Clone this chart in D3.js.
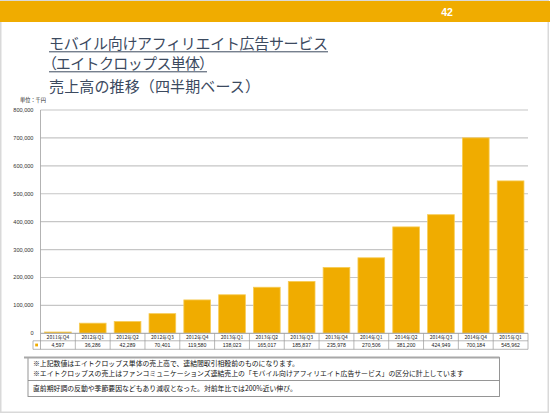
<!DOCTYPE html>
<html><head><meta charset="utf-8">
<script src="https://cdn.jsdelivr.net/npm/d3@7"></script>
<style>
html,body{margin:0;padding:0;background:#fff;}
svg{display:block;}
.palt{font-feature-settings:"palt";}
</style></head>
<body>
<svg id="c" width="550" height="413"></svg>
<script>
const categories = ["2011年Q4","2012年Q1","2012年Q2","2012年Q3","2012年Q4","2013年Q1","2013年Q2","2013年Q3","2013年Q4","2014年Q1","2014年Q2","2014年Q3","2014年Q4","2015年Q1"];
const sales = [4597,36286,42289,70401,119580,138023,165017,185837,235978,270506,381200,424949,700184,545962];
const yTicks = [0,100000,200000,300000,400000,500000,600000,700000,800000];
const titleLines = ["モバイル向けアフィリエイト広告サービス","（エイトクロップス単体）","売上高の推移（四半期ベース）"];
const unitLabel = "単位：千円";
const pageNumber = "42";
const notes = ["※上記数値はエイトクロップス単体の売上高で、連結間取引相殺前のものになります。",
  "※エイトクロップスの売上はファンコミュニケーションズ連結売上の「モバイル向けアフィリエイト広告サービス」の区分に計上しています"];
const comment = "直前期好調の反動や季節要因などもあり減収となった。対前年比では200%近い伸び。";

const JP = "'Noto Sans CJK JP','Noto Sans',sans-serif";
const NUM = "'Liberation Sans',Arial,sans-serif";
const ORANGE = "#F0AC00";
const svg = d3.select("#c");

// slide border
svg.append("rect").attr("x",0.75).attr("y",0.75).attr("width",547.5).attr("height",411.5)
  .attr("fill","#fff").attr("stroke","#d9d9d9").attr("stroke-width",1.5);
// header bar
svg.append("rect").attr("x",0).attr("y",1).attr("width",550).attr("height",21).attr("fill",ORANGE);
svg.append("text").attr("x",447).attr("y",16).attr("text-anchor","middle")
  .attr("font-family",NUM).attr("font-weight","bold").attr("font-size",10.5).attr("fill","#fff").text(pageNumber);

// title
const tBase = [49, 69, 92];
const tWidth = [279, 158, 211];
titleLines.forEach((t,i)=>{
  const tx = svg.append("text").attr("x",49).attr("y",tBase[i]).attr("font-family",JP)
    .attr("font-size",15).attr("fill","#3c4a5f");
  // split so that parentheses get proportional widths in line 2
  const parts = t.split(/([（）])/).filter(s=>s.length);
  parts.forEach(p=>{
    const ts = tx.append("tspan").text(p);
    if(/[（）]/.test(p) && i===1) ts.attr("class","palt");
  });
  tx.attr("textLength",tWidth[i]).attr("lengthAdjust","spacing");
  if(i<2){
    svg.append("line").attr("x1",49).attr("x2",49+tWidth[i]).attr("y1",tBase[i]+2.8).attr("y2",tBase[i]+2.8)
      .attr("stroke","#3c4a5f").attr("stroke-width",1);
  }
});

svg.append("text").attr("x",20).attr("y",102).attr("font-family",JP).attr("font-size",5.2)
  .attr("fill","#222").text(unitLabel);

// scales
const x0 = 40.5, x1 = 528;
const xCol = d3.scaleBand().domain(categories).range([x0,x1]).padding(0);
const x = d3.scaleBand().domain(categories).range([x0,x1]).paddingInner(0.233).paddingOuter(0.1165);
const y = d3.scaleLinear().domain([0,800000]).range([333.3,110]);

// gridlines
svg.append("g").selectAll("line").data(yTicks.filter(d=>d>0)).join("line")
  .attr("x1",x0).attr("x2",x1).attr("y1",d=>y(d)).attr("y2",d=>y(d))
  .attr("stroke","#c6c6c6").attr("stroke-width",1.2);

// y axis labels
svg.append("g").selectAll("text").data(yTicks).join("text")
  .attr("x",33.5).attr("y",d=>y(d)).attr("dy","0.35em").attr("text-anchor","end")
  .attr("font-family",NUM).attr("font-size",5.6).attr("fill","#333")
  .text(d=>d3.format(",")(d));

// bars
svg.append("g").selectAll("rect").data(sales).join("rect")
  .attr("x",(d,i)=>x(categories[i])).attr("width",x.bandwidth())
  .attr("y",d=>y(d)).attr("height",d=>y(0)-y(d))
  .attr("fill",ORANGE).attr("stroke","#f7cc55").attr("stroke-width",0.8);

// axis line
svg.append("line").attr("x1",x0).attr("x2",x0).attr("y1",110).attr("y2",349.3)
  .attr("stroke","#a0a0a0").attr("stroke-width",0.8);

// data table
const r0 = 333.3, r1 = 340.8, r2 = 349.3;
const tbl = svg.append("g").attr("stroke","#9a9a9a").attr("stroke-width",0.7);
tbl.append("line").attr("x1",x0).attr("x2",x1).attr("y1",r0).attr("y2",r0).attr("stroke","#b0b0b0").attr("stroke-width",1.2);
tbl.append("line").attr("x1",33).attr("x2",x1).attr("y1",r1).attr("y2",r1);
tbl.append("line").attr("x1",33).attr("x2",x1).attr("y1",r2).attr("y2",r2);
tbl.append("line").attr("x1",33).attr("x2",33).attr("y1",r1).attr("y2",r2);
tbl.selectAll("line.v").data(categories).join("line").attr("class","v")
  .attr("x1",d=>xCol(d)+xCol.bandwidth()).attr("x2",d=>xCol(d)+xCol.bandwidth())
  .attr("y1",r0).attr("y2",r2);
svg.append("rect").attr("x",35.2).attr("y",343.6).attr("width",2.8).attr("height",2.8).attr("fill",ORANGE);
svg.append("g").selectAll("text").data(categories).join("text")
  .attr("x",d=>xCol(d)+xCol.bandwidth()/2).attr("y",(r0+r1)/2).attr("dy","0.36em")
  .attr("text-anchor","middle").attr("font-family",JP).attr("font-size",5).attr("fill","#222").text(d=>d);
svg.append("g").selectAll("text").data(sales).join("text")
  .attr("x",(d,i)=>xCol(categories[i])+xCol.bandwidth()/2).attr("y",(r1+r2)/2).attr("dy","0.36em")
  .attr("text-anchor","middle").attr("font-family",NUM).attr("font-size",5.2).attr("fill","#222")
  .text(d=>d3.format(",")(d));

// notes box
const bx0 = 28, bx1 = 499.5, by0 = 357.5, byMid = 380.5, by1 = 396.5;
svg.append("rect").attr("x",bx0).attr("y",by0).attr("width",bx1-bx0).attr("height",by1-by0)
  .attr("fill","#fff").attr("stroke","#8a8a8a").attr("stroke-width",0.9);
svg.append("line").attr("x1",bx0-4).attr("x2",bx1).attr("y1",by0).attr("y2",by0).attr("stroke","#a8a8a8").attr("stroke-width",2);
svg.append("line").attr("x1",bx0).attr("x2",bx1).attr("y1",byMid).attr("y2",byMid).attr("stroke","#8a8a8a").attr("stroke-width",0.9);
const noteY = [364, 373.5];
notes.forEach((t,i)=>{
  svg.append("text").attr("x",33).attr("y",noteY[i]).attr("dy","0.36em").attr("font-family",JP)
    .attr("font-size",6.85).attr("fill","#111").text(t);
});
svg.append("text").attr("x",33).attr("y",388.5).attr("dy","0.36em").attr("font-family",JP)
  .attr("font-size",6.85).attr("fill","#111").text(comment);
</script>
</body></html>
